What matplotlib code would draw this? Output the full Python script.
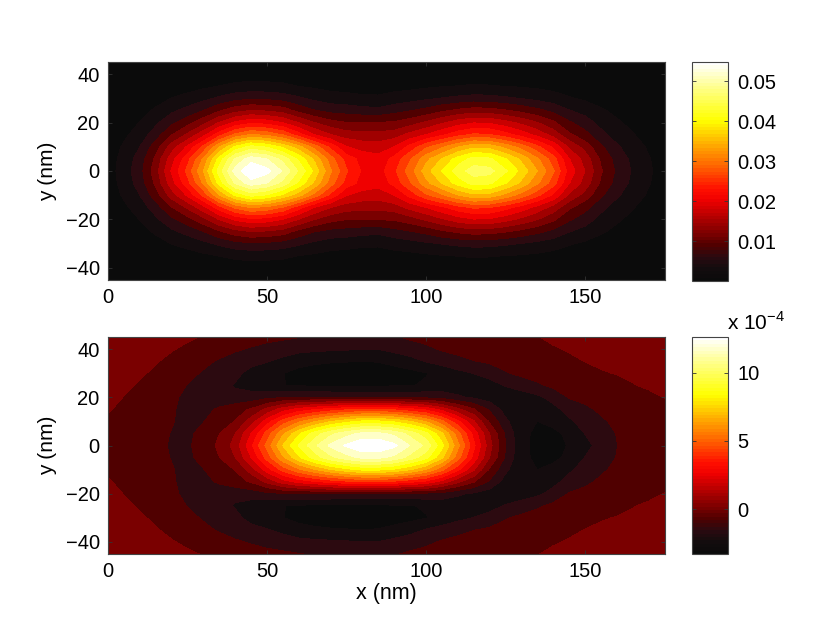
import numpy as np
import matplotlib
matplotlib.use('Agg')
import matplotlib.pyplot as plt
from matplotlib.colors import ListedColormap, LinearSegmentedColormap, Normalize
from matplotlib.cm import ScalarMappable

plt.rcParams['font.family'] = ['Liberation Sans', 'DejaVu Sans']
plt.rcParams['font.size'] = 14.5

# valores, solo mitad y>=0 (el mapa es simetrico en y)
y_half = [0, 5, 10, 15, 20, 25, 30, 35, 40, 45]
x_nm = [0, 5, 10, 15, 20, 25, 30, 35, 40, 45, 50, 55, 60, 65, 70, 75, 80, 85,
        90, 95, 100, 105, 110, 115, 120, 125, 130, 135, 140, 145, 150, 155, 160, 165, 170, 175]

# panel de arriba
top_y00 = [.0015, .0040, .0072, .0125, .0195, .0255, .0329, .0425, .0505, .0547, .0530, .0490, .0435, .0375, .0305, .0250, .0215, .0207,
           .0240, .0288, .0343, .0385, .0425, .0453, .0448, .0415, .0375, .0329, .0278, .0208, .0164, .0113, .0077, .0052, .0031, .0017]
top_y05 = [.0014, .0037, .0067, .0116, .0181, .0237, .0306, .0395, .0470, .0509, .0493, .0456, .0405, .0349, .0287, .0235, .0209, .0201,
           .0228, .0271, .0319, .0358, .0395, .0421, .0416, .0386, .0349, .0306, .0259, .0193, .0153, .0105, .0072, .0048, .0029, .0016]
top_y10 = [.0012, .0031, .0055, .0096, .0150, .0196, .0253, .0327, .0389, .0421, .0408, .0377, .0339, .0289, .0238, .0193, .0181, .0178,
           .0192, .0228, .0268, .0296, .0327, .0349, .0345, .0320, .0289, .0253, .0214, .0160, .0126, .0087, .0059, .0040, .0024, .0013]
top_y15 = [.0008, .0022, .0040, .0069, .0108, .0142, .0183, .0236, .0280, .0304, .0294, .0272, .0231, .0191, .0165, .0150, .0146, .0145,
           .0151, .0173, .0192, .0214, .0236, .0251, .0248, .0230, .0208, .0183, .0154, .0115, .0091, .0063, .0043, .0029, .0017, .0009]
top_y20 = [.0006, .0016, .0028, .0049, .0076, .0099, .0128, .0166, .0197, .0213, .0207, .0191, .0163, .0137, .0119, .0110, .0110, .0110,
           .0113, .0124, .0141, .0160, .0178, .0190, .0187, .0174, .0157, .0138, .0115, .0086, .0068, .0046, .0031, .0021, .0013, .0007]
top_y25 = [.0004, .0010, .0018, .0031, .0049, .0064, .0082, .0106, .0126, .0137, .0133, .0124, .0100, .0083, .0073, .0070, .0065, .0062,
           .0072, .0081, .0090, .0104, .0115, .0122, .0120, .0112, .0101, .0089, .0075, .0056, .0044, .0031, .0021, .0014, .0008, .0005]
top_y30 = [.0002, .0006, .0010, .0018, .0028, .0036, .0047, .0060, .0072, .0078, .0076, .0070, .0059, .0048, .0040, .0037, .0033, .0032,
           .0038, .0043, .0050, .0056, .0061, .0065, .0064, .0059, .0054, .0047, .0040, .0030, .0023, .0016, .0011, .0007, .0004, .0002]
top_y35 = [.0001, .0003, .0005, .0008, .0013, .0017, .0022, .0028, .0033, .0036, .0035, .0033, .0027, .0023, .0018, .0017, .0015, .0015,
           .0018, .0020, .0023, .0026, .0028, .0030, .0029, .0027, .0025, .0022, .0018, .0014, .0011, .0007, .0005, .0003, .0002, .0001]
top_y40 = [.0001, .0001, .0002, .0003, .0005, .0007, .0009, .0011, .0014, .0015, .0014, .0013, .0011, .0009, .0008, .0007, .0007, .0007,
           .0008, .0009, .0010, .0011, .0012, .0013, .0012, .0011, .0010, .0009, .0008, .0006, .0004, .0003, .0002, .0001, .0001, .0000]
top_y45 = [.0000, .0001, .0001, .0001, .0002, .0003, .0004, .0005, .0006, .0006, .0006, .0005, .0005, .0004, .0003, .0003, .0003, .0003,
           .0003, .0004, .0004, .0004, .0005, .0005, .0005, .0004, .0004, .0004, .0003, .0002, .0002, .0001, .0001, .0001, .0000, .0000]

# panel de abajo, en unidades de 1e-4
bot_y00 = [-.35, -.5, -.65, -.78, -.92, -.98, -.6, .1, 1.0, 2.9, 4.95, 7.07, 8.7, 10.05, 11.2, 11.95, 12.5, 12.5,
           12.0, 11.0, 10.0, 8.1, 5.7, 3.3, 1.0, -.85, -2.3, -2.65, -2.8, -2.4, -1.95, -1.35, -.9, -.6, -.4, -.3]
bot_y05 = [-.32, -.45, -.6, -.75, -.9, -1.0, -.7, -.1, .7, 2.3, 4.2, 6.1, 7.7, 9.0, 10.0, 10.7, 11.2, 11.2,
           10.8, 9.9, 8.9, 7.2, 5.0, 2.8, .7, -1.0, -2.3, -2.6, -2.65, -2.3, -1.65, -1.25, -.85, -.58, -.38, -.28]
bot_y10 = [-.2, -.38, -.52, -.68, -.85, -1.02, -.9, -.5, -.05, 1.1, 2.7, 4.2, 5.3, 6.2, 7.0, 7.6, 8.0, 8.0,
           7.7, 7.1, 6.2, 4.9, 3.3, 1.6, -.2, -1.5, -2.3, -2.47, -2.25, -1.8, -1.4, -1.0, -.72, -.52, -.35, -.25]
bot_y15 = [-.03, -.25, -.42, -.6, -.82, -1.05, -1.15, -.75, -.4, .0, .9, 1.9, 2.6, 3.0, 3.4, 3.7, 3.9, 3.9,
           3.7, 3.3, 2.9, 2.0, .9, .0, -1.0, -2.0, -2.2, -2.3, -1.9, -1.4, -1.05, -.75, -.55, -.4, -.28, -.2]
bot_y20 = [.07, -.1, -.28, -.48, -.78, -1.0, -1.25, -1.4, -1.45, -1.35, -1.1, -.95, -.95, -.95, -.95, -1.0, -1.0, -1.0,
           -1.05, -1.05, -1.1, -1.2, -1.55, -1.8, -2.1, -2.15, -2.1, -1.85, -1.4, -.83, -.65, -.5, -.4, -.25, -.15, -.08]
bot_y25 = [.17, .03, -.15, -.4, -.65, -.9, -1.15, -1.35, -1.75, -2.0, -2.2, -2.45, -2.55, -2.6, -2.6, -2.6, -2.6, -2.6,
           -2.55, -2.5, -2.4, -2.2, -2.15, -2.05, -1.95, -1.62, -1.3, -1.0, -.7, -.55, -.4, -.3, -.2, -.1, -.05, -.03]
bot_y30 = [.22, .15, .0, -.2, -.45, -.7, -.95, -1.15, -1.45, -1.95, -2.2, -2.45, -2.65, -2.75, -2.85, -2.9, -2.95, -2.95,
           -2.85, -2.7, -2.5, -2.2, -1.9, -1.65, -1.4, -.95, -.7, -.55, -.4, -.3, -.2, -.12, -.07, -.04, .05, .1]
bot_y35 = [.27, .22, .12, -.03, -.25, -.48, -.72, -.95, -1.2, -1.4, -1.62, -1.9, -2.25, -2.35, -2.4, -2.43, -2.45, -2.42,
           -2.2, -1.95, -1.62, -1.35, -1.1, -.9, -.75, -.55, -.4, -.3, -.22, -.15, -.08, -.02, .05, .1, .15, .2]
bot_y40 = [.3, .26, .2, .12, -.04, -.2, -.42, -.6, -.78, -.95, -1.1, -1.25, -1.4, -1.5, -1.55, -1.6, -1.65, -1.65,
           -1.45, -1.25, -1.05, -.8, -.65, -.5, -.4, -.32, -.25, -.2, -.12, -.06, .0, .1, .15, .2, .25, .28]
bot_y45 = [.32, .3, .26, .2, .12, .0, -.12, -.28, -.45, -.58, -.68, -.75, -.85, -.95, -1.05, -1.15, -1.25, -1.25,
           -.95, -.75, -.62, -.5, -.42, -.35, -.28, -.22, -.16, -.1, -.02, .05, .1, .15, .2, .24, .28, .3]

top_rows = [top_y00, top_y05, top_y10, top_y15, top_y20, top_y25, top_y30, top_y35, top_y40, top_y45]
bot_rows = [bot_y00, bot_y05, bot_y10, bot_y15, bot_y20, bot_y25, bot_y30, bot_y35, bot_y40, bot_y45]

top_range = [0.0, 0.0548]
bot_range = [-3.26, 12.6]
top_cb_ticks = [0.01, 0.02, 0.03, 0.04, 0.05]
top_cb_labels = ['0.01', '0.02', '0.03', '0.04', '0.05']
bot_cb_ticks = [0, 5, 10]
x_ticks = [0, 50, 100, 150]
y_ticks = [-40, -20, 0, 20, 40]
y_labels = ['\u221240', '\u221220', '0', '20', '40']

bandas = ['#0b0b0b', '#140c0e', '#2c0a10', '#500000', '#7a0000', '#a00000', '#c80000', '#f00000',
          '#ff1000', '#ff3a00', '#ff6400', '#ff8a00', '#ffb000', '#ffd800', '#ffff00', '#ffff30',
          '#ffff60', '#ffff90', '#ffffc8', '#ffffff']
cmap_bandas = ListedColormap(bandas)
cmap_barra = LinearSegmentedColormap.from_list('barra', bandas, N=64)


def espejo(filas):
    # armo la grilla completa repitiendo la mitad de arriba
    Z = np.array(filas, dtype=float)
    return np.vstack([Z[:0:-1], Z])


Y = np.array([-v for v in y_half[:0:-1]] + y_half, dtype=float)
W, H = 830.0, 625.0


def caja(x0, x1, y0, y1):
    return [x0 / W, 1 - y1 / H, (x1 - x0) / W, (y1 - y0) / H]


def estilo(ax):
    ax.set_xlim(0, 175)
    ax.set_ylim(-45, 45)
    ax.set_xticks(x_ticks)
    ax.set_yticks(y_ticks)
    ax.set_yticklabels(y_labels)
    ax.tick_params(direction='in', top=True, right=True, length=3, width=0.6, color='#333333', pad=6)
    ax.set_ylabel('y (nm)', labelpad=6, fontsize=15)
    for s in ax.spines.values():
        s.set_linewidth(0.8)
        s.set_color('#444444')


fig = plt.figure(figsize=(8.3, 6.25), dpi=100)

ax1 = fig.add_axes(caja(108, 664.5, 62, 280))
ax1.contourf(x_nm, Y, espejo(top_rows), levels=np.linspace(top_range[0], top_range[1], 21), cmap=cmap_bandas)
estilo(ax1)

ax2 = fig.add_axes(caja(108, 664.5, 337, 554))
ax2.contourf(x_nm, Y, espejo(bot_rows), levels=np.linspace(bot_range[0], bot_range[1], 21), cmap=cmap_bandas)
estilo(ax2)
ax2.set_xlabel('x (nm)', labelpad=1, fontsize=15.5)

cax1 = fig.add_axes(caja(692, 728, 62, 281))
cb1 = fig.colorbar(ScalarMappable(Normalize(top_range[0], top_range[1]), cmap_barra), cax=cax1)
cb1.set_ticks(top_cb_ticks)
cb1.set_ticklabels(top_cb_labels)

cax2 = fig.add_axes(caja(692, 728, 337, 554))
cb2 = fig.colorbar(ScalarMappable(Normalize(bot_range[0], bot_range[1]), cmap_barra), cax=cax2)
cb2.set_ticks(bot_cb_ticks)

for cb in [cb1, cb2]:
    cb.ax.tick_params(direction='in', left=True, right=True, length=3, width=0.6, color='#333333', pad=7)
    cb.outline.set_linewidth(0.8)
    cb.outline.set_edgecolor('#444444')

fig.text(727 / W, 1 - 322 / H, 'x 10$^{\\mathregular{\u22124}}$', ha='left', va='center', fontsize=15)

fig.savefig('out.png', dpi=100)
